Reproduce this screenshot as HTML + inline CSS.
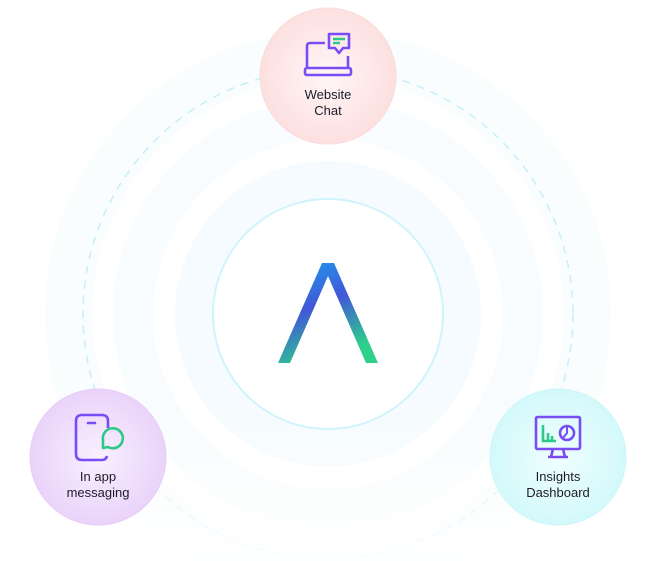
<!DOCTYPE html>
<html><head><meta charset="utf-8"><style>
html,body{margin:0;padding:0;background:#fff;width:656px;height:561px;overflow:hidden}
svg{display:block}
text{font-family:"Liberation Sans",sans-serif;font-size:13px;fill:#1c1c28;text-anchor:middle}
</style></head><body>
<svg width="656" height="561" viewBox="0 0 656 561" xmlns="http://www.w3.org/2000/svg">
<defs>
<linearGradient id="lg" x1="0" y1="0" x2="0.4" y2="1">
<stop offset="0" stop-color="#1aa3f0"/><stop offset="0.5" stop-color="#4157d8"/><stop offset="1" stop-color="#2ed08a"/>
</linearGradient>
<linearGradient id="fade" x1="0" y1="0" x2="0" y2="1">
<stop offset="0" stop-color="#fff" stop-opacity="0"/><stop offset="1" stop-color="#fff" stop-opacity="0.9"/>
</linearGradient>
<radialGradient id="pk"><stop offset="0" stop-color="#fff6f6"/><stop offset="1" stop-color="#fde0e0"/></radialGradient>
<radialGradient id="pu"><stop offset="0" stop-color="#f8f0fe"/><stop offset="1" stop-color="#ead3fa"/></radialGradient>
<radialGradient id="cy"><stop offset="0" stop-color="#f0fefe"/><stop offset="1" stop-color="#d3f9fb"/></radialGradient>
</defs>
<path d="M189.9 561 A283 283 0 1 1 466.1 561 Z" fill="#f9fdfe"/>
<circle cx="328" cy="314" r="236" fill="#fff"/>
<circle cx="328" cy="314" r="245" fill="none" stroke="#c6eff9" stroke-width="1.5" stroke-dasharray="8 7"/>
<circle cx="328" cy="314" r="215" fill="#f8fcfe"/>
<circle cx="328" cy="314" r="175" fill="#fff"/>
<circle cx="328" cy="314" r="153" fill="#f5fbfe"/>
<rect x="0" y="400" width="656" height="161" fill="url(#fade)"/>
<circle cx="328" cy="314" r="115" fill="#fff" stroke="#d0f4fc" stroke-width="2"/>
<polygon points="322,263 334,263 378,363 366,363 328,276 290,363 278,363" fill="url(#lg)"/>

<circle cx="328" cy="76" r="68" fill="url(#pk)" stroke="#fcdada" stroke-width="1"/>
<g fill="none" stroke="#7a4cf5" stroke-width="2.6" stroke-linejoin="round">
<path d="M325 43 H310 Q307 43 307 46 V68 M348 56 V68"/>
<rect x="305" y="68" width="46" height="7" rx="2"/>
<path d="M329 34 H349 V48 H343 L339 53 L335 48 H329 Z"/>
</g>
<path d="M333 39 H345 M333 43 H340" stroke="#2ec989" stroke-width="2.4"/>
<text x="328" y="99">Website</text><text x="328" y="115">Chat</text>

<circle cx="98" cy="457" r="68" fill="url(#pu)" stroke="#e7cdf8"/>
<g fill="none" stroke-width="2.6">
<path d="M108 428 V421 Q108 415 102 415 H82 Q76 415 76 421 V454 Q76 460 82 460 H102 Q106 460 107 456" stroke="#7a4cf5"/>
<path d="M88 423 H95" stroke="#7a4cf5" stroke-linecap="round"/>
<path d="M103 448 L103 440 A10 10 0 1 1 108 447 Z" stroke="#2ec989" stroke-linejoin="round"/>
</g>
<text x="98" y="481">In app</text><text x="98" y="497">messaging</text>

<circle cx="558" cy="457" r="68" fill="url(#cy)" stroke="#cdf5f9"/>
<g fill="none" stroke="#7a4cf5" stroke-width="2.6">
<rect x="536" y="417" width="44" height="32" rx="1.5"/>
<path d="M553 449 L551 457 M563 449 L565 457 M548 457 H568"/>
<circle cx="567" cy="433" r="7"/>
<path d="M567 427 V433 L563 438" stroke-width="2"/>
</g>
<path d="M543 425 V441 H556 M548 433 V441 M552 436 V441" fill="none" stroke="#2ec989" stroke-width="2.6"/>
<text x="558" y="481">Insights</text><text x="558" y="497">Dashboard</text>
</svg>
</body></html>
